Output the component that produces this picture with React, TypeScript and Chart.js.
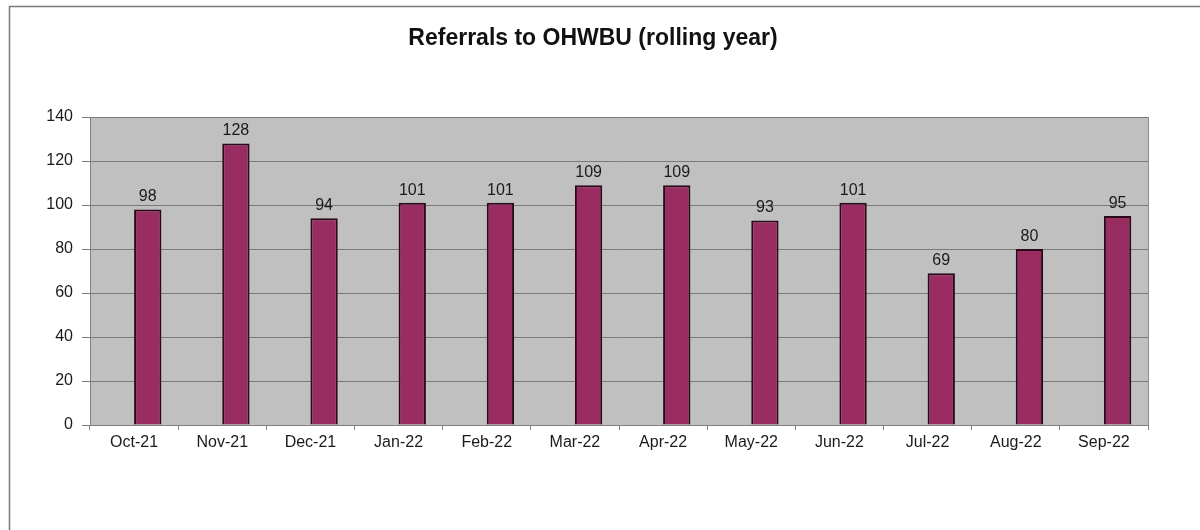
import React, { useEffect, useRef } from 'react';
import { Chart, registerables } from 'chart.js';

Chart.register(...registerables);

const TITLE = 'Referrals to OHWBU (rolling year)';
const categories = ['Oct-21', 'Nov-21', 'Dec-21', 'Jan-22', 'Feb-22', 'Mar-22', 'Apr-22', 'May-22', 'Jun-22', 'Jul-22', 'Aug-22', 'Sep-22'];
const referrals = [98, 128, 94, 101, 101, 109, 109, 93, 101, 69, 80, 95];
const emptySeries = [null, null, null, null, null, null, null, null, null, null, null, null];
const yMin = 0;
const yMax = 140;
const yStep = 20;

const FONT = "'Liberation Sans', Arial, sans-serif";

export default function App() {
  const ref = useRef<HTMLCanvasElement>(null);

  useEffect(() => {
    if (!ref.current) return;

    const decor = {
      id: 'decor',
      beforeDraw(chart: any) {
        const { ctx, chartArea: a } = chart;
        ctx.save();
        ctx.fillStyle = '#ffffff';
        ctx.fillRect(0, 0, chart.width, chart.height);
        ctx.strokeStyle = '#7a7a7a';
        ctx.lineWidth = 1.5;
        ctx.strokeRect(9.5, 6.5, 1400, 800);
        ctx.fillStyle = '#c0c0c0';
        ctx.fillRect(a.left, a.top, a.right - a.left, a.bottom - a.top);
        ctx.restore();
      },
      afterDraw(chart: any) {
        const { ctx, chartArea: a } = chart;
        ctx.save();
        ctx.strokeStyle = '#8c8c8c';
        ctx.lineWidth = 1;
        ctx.beginPath();
        ctx.moveTo(a.right + 0.5, a.top);
        ctx.lineTo(a.right + 0.5, a.bottom);
        ctx.stroke();
        ctx.fillStyle = '#111111';
        ctx.font = `bold 23px ${FONT}`;
        ctx.textAlign = 'center';
        ctx.textBaseline = 'alphabetic';
        ctx.fillText(TITLE, 593, 45);
        ctx.font = `16px ${FONT}`;
        ctx.fillStyle = '#1a1a1a';
        const meta = chart.getDatasetMeta(1);
        meta.data.forEach((el: any, i: number) => {
          ctx.fillText(String(referrals[i]), el.x, el.y - 8);
        });
        ctx.restore();
      },
    };

    const chart = new Chart(ref.current, {
      type: 'bar',
      data: {
        labels: categories,
        datasets: [
          {
            label: '',
            data: emptySeries as any,
            backgroundColor: '#993366',
          },
          {
            label: 'Referrals',
            data: referrals,
            backgroundColor: '#992c60',
            borderColor: '#2a0a1a',
            borderWidth: 2,
          },
        ],
      },
      options: {
        responsive: false,
        animation: false,
        datasets: {
          bar: { barPercentage: 1, categoryPercentage: 0.62 },
        },
        layout: { padding: { top: 117, right: 52, left: 0, bottom: 0 } },
        plugins: {
          legend: { display: false },
          tooltip: { enabled: false },
          title: { display: false },
        },
        scales: {
          x: {
            grid: { drawOnChartArea: false, drawTicks: true, tickLength: 5, color: '#808080' },
            border: { color: '#808080' },
            ticks: {
              font: { family: FONT, size: 16 },
              color: '#1a1a1a',
              padding: 3,
              maxRotation: 0,
              autoSkip: false,
            },
            afterFit(s: any) {
              s.height = 105;
            },
          },
          y: {
            min: yMin,
            max: yMax,
            ticks: {
              stepSize: yStep,
              font: { family: FONT, size: 16 },
              color: '#1a1a1a',
              padding: 9,
            },
            grid: { color: '#7a7a7a', tickLength: 8 },
            border: { color: '#808080' },
            afterFit(s: any) {
              s.width = 90;
            },
          },
        },
      },
      plugins: [decor],
    });

    return () => chart.destroy();
  }, []);

  return (
    <div style={{ position: 'fixed', left: 0, top: 0, width: 1200, height: 530, background: '#fff' }}>
      <canvas ref={ref} width={1200} height={530} />
    </div>
  );
}
